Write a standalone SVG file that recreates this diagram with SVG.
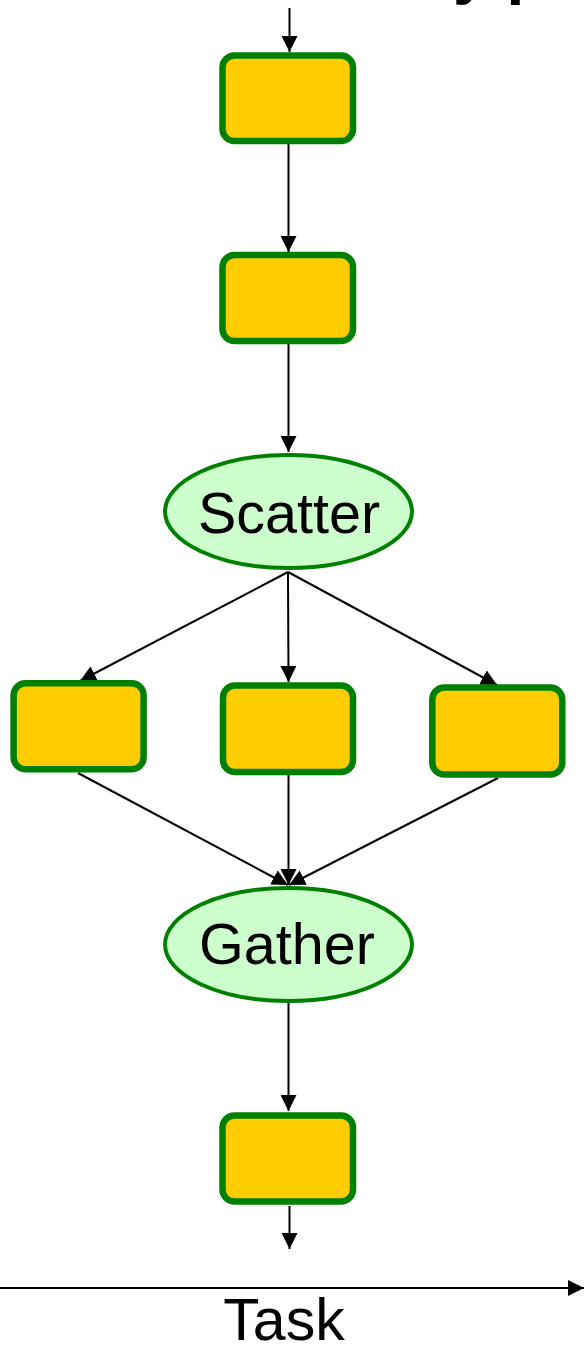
<svg xmlns="http://www.w3.org/2000/svg" width="584" height="1345" viewBox="0 0 584 1345">
  <style>
    .task { fill: #ffcc00; stroke: #008000; stroke-width: 6.5; }
    .hub { fill: #ccffcc; stroke: #008000; stroke-width: 4; }
    .label { font-family: "Liberation Sans", Arial, sans-serif; font-size: 57.5px; fill: #000; text-anchor: middle; }
    .title { font-family: "Liberation Sans", Arial, sans-serif; font-size: 64px; font-weight: bold; fill: #000; }
    .edge { stroke: #000; stroke-width: 2; fill: none; marker-end: url(#arrow); }
  </style>
  <defs>
    <marker id="arrow" viewBox="0 0 16 16" refX="16" refY="8" markerWidth="16" markerHeight="16" markerUnits="userSpaceOnUse" orient="auto">
      <path d="M0,0 L16,8 L0,16 z" fill="#000"/>
    </marker>
  </defs>

  <rect width="584" height="1345" fill="#fff"/>

  <!-- heading, mostly above the top edge -->
  <text class="title" x="453" y="-8">y p</text>

  <g id="connectors">
    <line class="edge" x1="289.5" y1="8" x2="289.5" y2="52"/>
    <line class="edge" x1="288.5" y1="144" x2="288.5" y2="252"/>
    <line class="edge" x1="288.5" y1="344" x2="288.5" y2="452"/>
    <line class="edge" x1="288" y1="572" x2="80" y2="681"/>
    <line class="edge" x1="288" y1="572" x2="288.5" y2="682"/>
    <line class="edge" x1="288" y1="572" x2="497" y2="685"/>
    <line class="edge" x1="78" y1="773" x2="288" y2="885"/>
    <line class="edge" x1="288.5" y1="775" x2="288.5" y2="885"/>
    <line class="edge" x1="498" y1="778" x2="289" y2="885"/>
    <line class="edge" x1="288.5" y1="1003" x2="288.5" y2="1111"/>
    <line class="edge" x1="289.5" y1="1206" x2="289.5" y2="1249"/>
    <line class="edge" x1="0" y1="1288" x2="584" y2="1288"/>
  </g>

  <g id="task1"><rect class="task" x="222.5" y="55.5" width="130.5" height="85.5" rx="12"/></g>
  <g id="task2"><rect class="task" x="222.5" y="255" width="130.5" height="86" rx="12"/></g>

  <g id="scatter">
    <ellipse class="hub" cx="288.5" cy="511.5" rx="123.5" ry="56.5"/>
    <text class="label" x="289" y="533">Scatter</text>
  </g>

  <g id="task-left"><rect class="task" x="13.6" y="683.3" width="130" height="86" rx="12"/></g>
  <g id="task-middle"><rect class="task" x="223" y="685.5" width="130" height="86.5" rx="12"/></g>
  <g id="task-right"><rect class="task" x="432.3" y="687.5" width="130" height="87" rx="12"/></g>

  <g id="gather">
    <ellipse class="hub" cx="288.5" cy="944.5" rx="123.5" ry="56.5"/>
    <text class="label" x="287" y="964">Gather</text>
  </g>

  <g id="task-final"><rect class="task" x="222.5" y="1115.5" width="130.5" height="86" rx="12"/></g>

  <g id="axis-label">
    <text class="label" x="284" y="1340" style="font-size:59px">Task</text>
  </g>
</svg>
